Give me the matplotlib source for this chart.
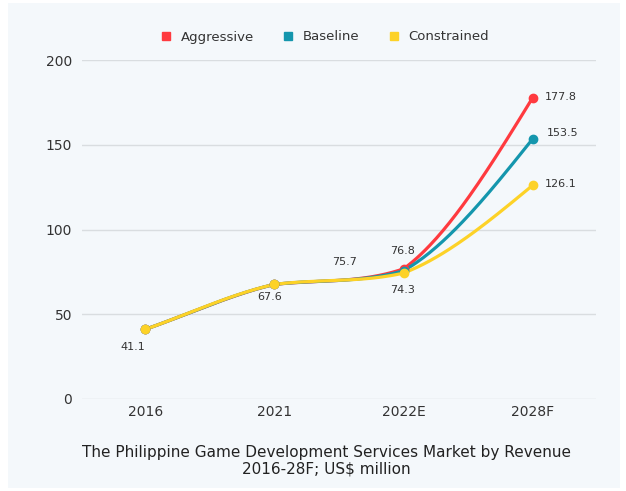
import numpy as np
import matplotlib.pyplot as plt
from matplotlib.patches import Rectangle
from matplotlib.lines import Line2D

plt.rcParams['font.family'] = ['DejaVu Sans']

years = ['2016', '2021', '2022E', '2028F']
aggressive = [41.1, 67.6, 76.8, 177.8]
baseline = [41.1, 67.6, 75.7, 153.5]
constrained = [41.1, 67.6, 74.3, 126.1]

series = [
    ('Aggressive', aggressive, '#ff3a3f'),
    ('Baseline', baseline, '#1496ad'),
    ('Constrained', constrained, '#fdd227'),
]


def smooth(xs, ys, n=60):
    # cubic hermite, catmull-rom tangents, each segment kept monotone on its own
    xs = np.array(xs, float)
    ys = np.array(ys, float)
    m = len(xs)
    d = np.diff(ys) / np.diff(xs)
    mk = np.zeros(m)
    for i in range(1, m - 1):
        mk[i] = (ys[i+1] - ys[i-1]) / (xs[i+1] - xs[i-1])
    mk[0] = d[0]
    mk[-1] = (3 * d[-1] - mk[-2]) / 2
    outx, outy = [], []
    u = np.linspace(0, 1, n)
    for i in range(m - 1):
        m0, m1 = mk[i], mk[i+1]
        a, b = m0 / d[i], m1 / d[i]
        if a*a + b*b > 9:
            tau = 3 / np.sqrt(a*a + b*b)
            m0, m1 = m0 * tau, m1 * tau
        h = xs[i+1] - xs[i]
        h00 = 2*u**3 - 3*u**2 + 1
        h10 = u**3 - 2*u**2 + u
        h01 = -2*u**3 + 3*u**2
        h11 = u**3 - u**2
        outx.extend(xs[i] + u*h)
        outy.extend(h00*ys[i] + h10*h*m0 + h01*ys[i+1] + h11*h*m1)
    return np.array(outx), np.array(outy)


fig = plt.figure(figsize=(6.26, 4.91), dpi=100, facecolor='white')
bg = Rectangle((8/626, 3/491), 612/626, 485/491, transform=fig.transFigure,
               facecolor='#f4f8fb', edgecolor='none', zorder=-5)
fig.add_artist(bg)
ax = fig.add_axes([82/626, 1-399/491, 514/626, 339/491])
ax.set_zorder(2)
ax.set_facecolor('none')

x = np.arange(len(years))
for name, vals, col in series:
    sx_, sy_ = smooth(x, vals)
    ax.plot(sx_, sy_, color=col, lw=2.3, zorder=3, solid_capstyle='round')
    ax.plot(x, vals, 'o', color=col, ms=6, zorder=4)

ax.set_xlim(-0.49, 3.49)
ax.set_ylim(0, 200)
ax.set_yticks([0, 50, 100, 150, 200])
ax.set_xticks(x)
ax.set_xticklabels(years)
ax.grid(axis='y', color='#d9dde0', lw=1)
ax.set_axisbelow(True)
for s in ax.spines.values():
    s.set_visible(False)
ax.tick_params(length=0, labelsize=10, colors='#333333')
ax.tick_params(axis='x', pad=4)
ax.tick_params(axis='y', pad=7)

lab = dict(fontsize=8, color='#333333', textcoords='offset pixels', ha='center', va='center')
ax.annotate('41.1', (0, aggressive[0]), xytext=(-12, -18), **lab)
ax.annotate('67.6', (1, aggressive[1]), xytext=(-5, -13), **lab)
ax.annotate('75.7', (2, baseline[2]), xytext=(-59, 9), **lab)
ax.annotate('76.8', (2, aggressive[2]), xytext=(-1, 18), **lab)
ax.annotate('74.3', (2, constrained[2]), xytext=(-1, -17), **lab)
ax.annotate('177.8', (3, aggressive[3]), xytext=(28, 1), **lab)
ax.annotate('153.5', (3, baseline[3]), xytext=(30, 6), **lab)
ax.annotate('126.1', (3, constrained[3]), xytext=(28, 1), **lab)

handles = [Line2D([], [], marker='s', ls='none', color=c, ms=5.5) for _, _, c in series]
fig.legend(handles, [n for n, _, _ in series], loc='center', bbox_to_anchor=(321/626, 1-37/491),
           ncol=3, frameon=False, fontsize=9.5, handletextpad=0.1, columnspacing=1.6,
           labelcolor='#333333')

fig.text(326/626, 1-452/491, 'The Philippine Game Development Services Market by Revenue',
         ha='center', va='center', fontsize=11, color='#222222')
fig.text(326/626, 1-469/491, '2016-28F; US$ million',
         ha='center', va='center', fontsize=11, color='#222222')

fig.savefig('out.png', dpi=100, facecolor='white')
plt.close()
